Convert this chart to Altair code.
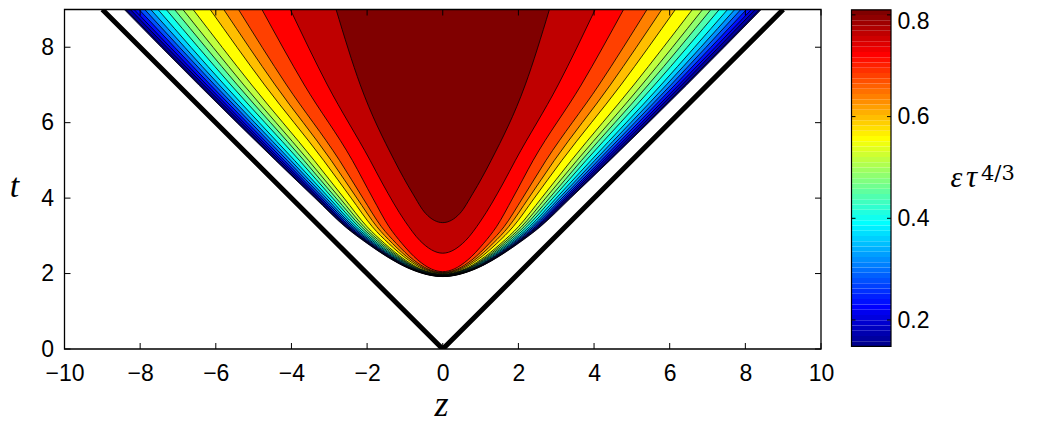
import altair as alt
import pandas as pd
import numpy as np

# ---------------- data ----------------
# rows (t values) at which the left branch of each contour was read
ROW_T = [9, 7, 5, 4, 3.24, 2.8, 2.36, 2.12]

# contour levels of eps*tau^(4/3) (first entry: edge of the coloured region)
LOW_LEVELS = [0.148, 0.16, 0.20, 0.24, 0.28, 0.32, 0.36, 0.40, 0.44,
              0.48, 0.52, 0.56, 0.60, 0.64, 0.68, 0.72]

# z position of each contour on the rows above (left branch)
LOW_Z = [
    [-8.42, -6.45, -4.42, -3.38, -2.58, -2.00, -1.33, -0.86],
    [-8.38, -6.41, -4.39, -3.35, -2.56, -1.98, -1.32, -0.85],
    [-8.26, -6.32, -4.32, -3.30, -2.52, -1.95, -1.30, -0.83],
    [-8.16, -6.24, -4.26, -3.26, -2.49, -1.93, -1.28, -0.82],
    [-8.03, -6.14, -4.19, -3.21, -2.45, -1.90, -1.25, -0.80],
    [-7.88, -6.03, -4.11, -3.15, -2.40, -1.86, -1.23, -0.78],
    [-7.72, -5.91, -4.02, -3.08, -2.35, -1.82, -1.20, -0.75],
    [-7.53, -5.77, -3.92, -3.00, -2.29, -1.77, -1.16, -0.72],
    [-7.31, -5.60, -3.79, -2.91, -2.22, -1.72, -1.12, -0.69],
    [-7.09, -5.43, -3.67, -2.82, -2.15, -1.66, -1.08, -0.65],
    [-6.87, -5.26, -3.55, -2.72, -2.08, -1.60, -1.04, -0.62],
    [-6.60, -5.05, -3.40, -2.61, -2.00, -1.54, -0.99, -0.58],
    [-6.15, -4.71, -3.15, -2.42, -1.86, -1.43, -0.91, -0.51],
    [-5.79, -4.43, -2.95, -2.27, -1.74, -1.33, -0.84, -0.45],
    [-5.40, -4.13, -2.73, -2.11, -1.62, -1.23, -0.77, -0.39],
    [-4.78, -3.66, -2.39, -1.85, -1.42, -1.08, -0.66, -0.30],
]
# t where each contour crosses z = 0
LOW_BOTTOM_T = [1.92, 1.922, 1.927, 1.93, 1.935, 1.94, 1.945, 1.952, 1.96,
                1.968, 1.976, 1.986, 2.001, 2.014, 2.028, 2.05]

# the two innermost contours
L76_Z = [-4.03, -3.05, -1.92, -1.60, -1.00, -0.60, 0.0]
L76_T = [9, 7, 5, 4.4, 3.39, 2.87, 2.54]
L80_Z = [-2.82, -2.18, -1.28, -0.80, -0.45, 0.0]
L80_T = [9, 7, 5, 4.13, 3.59, 3.35]

# light cone t = |z|
CONE_Z = [-9, 0, 9]
CONE_T = [9, 0, 9]

X_TICKS = [-10, -8, -6, -4, -2, 0, 2, 4, 6, 8, 10]
Y_TICKS = [0, 2, 4, 6, 8]
CB_TICKS = [0.2, 0.4, 0.6, 0.8]
CLIM = [0.148, 0.81]


# ---------------- MATLAB jet(64) colour map ----------------
def jet_map(m=64):
    n = int(np.ceil(m / 4))
    u = np.concatenate([np.arange(1, n + 1) / n, np.ones(n - 1), np.arange(n, 0, -1) / n])
    g = int(np.ceil(n / 2)) - (1 if m % 4 == 1 else 0) + np.arange(1, len(u) + 1)
    r = g + n
    b = g - n
    J = np.zeros((m, 3))
    for col, idx in ((0, r), (1, g), (2, b)):
        ok = (idx >= 1) & (idx <= m)
        J[idx[ok] - 1, col] = u[ok]
    return ["#%02x%02x%02x" % tuple(int(round(c * 255)) for c in row) for row in J]


JET = jet_map(64)


def jet_color(v):
    k = int((v - CLIM[0]) / (CLIM[1] - CLIM[0]) * 64)
    return JET[min(max(k, 0), 63)]


# ---------------- build tables ----------------
curves = []
for lev, zs, tb in zip(LOW_LEVELS, LOW_Z, LOW_BOTTOM_T):
    curves.append((lev, zs + [0.0], ROW_T + [tb]))
curves.append((0.76, L76_Z, L76_T))
curves.append((0.80, L80_Z, L80_T))

rows = []
for cid, (lev, zs, ts) in enumerate(curves):
    col = jet_color(lev + 1e-9)
    for z, t in zip(zs, ts):
        rows.append({"cid": cid, "col": col, "z": z, "t": t, "top": 9.0})
        if z != 0:
            rows.append({"cid": cid, "col": col, "z": -z, "t": t, "top": 9.0})
df = pd.DataFrame(rows).sort_values(["cid", "z"]).reset_index(drop=True)

cone = pd.DataFrame({"z": CONE_Z, "t": CONE_T})

edges = np.linspace(CLIM[0], CLIM[1], 65)
cb = pd.DataFrame({"lo": edges[:-1], "hi": edges[1:], "col": JET})

# ---------------- scales / styles ----------------
W, H = 756.5, 339.5
xs = alt.Scale(domain=[-10, 10], nice=False, zero=False)
ys = alt.Scale(domain=[0, 9], nice=False, zero=False)
FONT = "Liberation Sans"
xaxis = alt.Axis(values=X_TICKS, labelFontSize=23, labelFont=FONT, ticks=False,
                 domain=False, grid=False, title=None, labelPadding=13,
                 labelFlush=False, labelColor="black", orient="bottom")
yaxis = alt.Axis(values=Y_TICKS, labelFontSize=23, labelFont=FONT, ticks=False,
                 domain=False, grid=False, title=None, labelPadding=11,
                 labelFlush=False, labelColor="black", orient="left")

X = alt.X("z:Q", scale=xs, axis=xaxis)
Y = alt.Y("t:Q", scale=ys, axis=yaxis)

base = alt.Chart(df)
layers = []
for cid in range(len(curves)):
    layers.append(
        base.transform_filter(alt.datum.cid == cid)
        .mark_area(interpolate="monotone")
        .encode(x=X, y=Y, y2="top:Q", color=alt.Color("col:N", scale=None))
    )

lines = base.mark_line(interpolate="monotone", color="black", strokeWidth=0.8).encode(
    x=X, y=Y, detail="cid:N", order="z:Q",
)

cone_line = alt.Chart(cone).mark_line(color="black", strokeWidth=5, clip=True).encode(
    x=X, y=Y, order="z:Q",
)

xt = alt.Chart(pd.DataFrame({"z": X_TICKS}))
yt = alt.Chart(pd.DataFrame({"t": Y_TICKS}))
tick_b = xt.mark_rule(color="black", strokeWidth=1).encode(
    x=X, y=alt.value(H), y2=alt.value(H - 6))
tick_t = xt.mark_rule(color="black", strokeWidth=1).encode(
    x=X, y=alt.value(0), y2=alt.value(6))
tick_l = yt.mark_rule(color="black", strokeWidth=1).encode(
    y=Y, x=alt.value(0), x2=alt.value(6))
tick_r = yt.mark_rule(color="black", strokeWidth=1).encode(
    y=Y, x=alt.value(W), x2=alt.value(W - 6))

one = alt.Chart(pd.DataFrame({"a": [0]}))
frame = one.mark_rect(filled=False, stroke="black", strokeWidth=1.3).encode(
    x=alt.value(0), x2=alt.value(W), y=alt.value(0), y2=alt.value(H))

SERIF = "Liberation Serif"
t_label = one.mark_text(text="t", font=SERIF, fontStyle="italic", fontSize=34,
                        align="center", baseline="alphabetic", color="black").encode(
    x=alt.value(-50), y=alt.value(187))
z_label = one.mark_text(text="z", font=SERIF, fontStyle="italic", fontSize=36,
                        align="center", baseline="alphabetic", color="black").encode(
    x=alt.value(377), y=alt.value(406))
eps_label = one.mark_text(text="ε", font=SERIF, fontStyle="italic", fontSize=30,
                          align="left", baseline="alphabetic", color="black").encode(
    x=alt.value(886), y=alt.value(177))
tau_label = one.mark_text(text="τ", font=SERIF, fontStyle="italic", fontSize=31,
                          align="left", baseline="alphabetic", color="black").encode(
    x=alt.value(901.5), y=alt.value(177))
pow_label = one.mark_text(text="4/3", font="DejaVu Serif", fontSize=21,
                          align="left", baseline="alphabetic", color="black").encode(
    x=alt.value(916.5), y=alt.value(170.5))

main = alt.layer(*layers, lines, cone_line, tick_b, tick_t, tick_l, tick_r, frame,
                 t_label, z_label, eps_label, tau_label, pow_label)

# ---------------- colour bar ----------------
CBX0, CBX1 = 787.0, 826.5
cb_y = alt.Scale(domain=[0.1430, 0.8106], nice=False, zero=False)
cb_axis = alt.Axis(orient="right", offset=CBX1 - W, values=CB_TICKS, format=".1f",
                   labelFontSize=23, labelFont=FONT, ticks=False, domain=False,
                   grid=False, title=None, labelPadding=6, labelColor="black",
                   labelOffset={"condition": {"test": "datum.value > 0.75", "value": 6.5},
                                "value": 0})
CBY = alt.Y("lo:Q", scale=cb_y, axis=cb_axis)
cb_rects = alt.Chart(cb).mark_rect().encode(
    x=alt.value(CBX0), x2=alt.value(CBX1),
    y=CBY, y2="hi:Q",
    color=alt.Color("col:N", scale=None),
)
cb_border = alt.Chart(pd.DataFrame({"lo": [CLIM[0]], "hi": [CLIM[1]]})).mark_rect(
    filled=False, stroke="black", strokeWidth=1.2).encode(
    x=alt.value(CBX0), x2=alt.value(CBX1), y=CBY, y2="hi:Q")
cbt = alt.Chart(pd.DataFrame({"lo": CB_TICKS}))
cb_tl = cbt.mark_rule(color="black").encode(
    y=CBY, x=alt.value(CBX0), x2=alt.value(CBX0 + 4))
cb_tr = cbt.mark_rule(color="black").encode(
    y=CBY, x=alt.value(CBX1 - 4), x2=alt.value(CBX1))

cbar = alt.layer(cb_rects, cb_border, cb_tl, cb_tr)

chart = (
    alt.layer(main, cbar)
    .resolve_scale(y="independent")
    .properties(
        width=W, height=H, autosize="none",
        padding={"left": 56.5, "top": 1.5, "right": 1022 - 56.5 - W,
                 "bottom": 414 - 1.5 - H},
        background="white",
    )
    .configure_view(stroke=None)
)

chart.save("out.html", embed_options={"renderer": "svg", "actions": False})
